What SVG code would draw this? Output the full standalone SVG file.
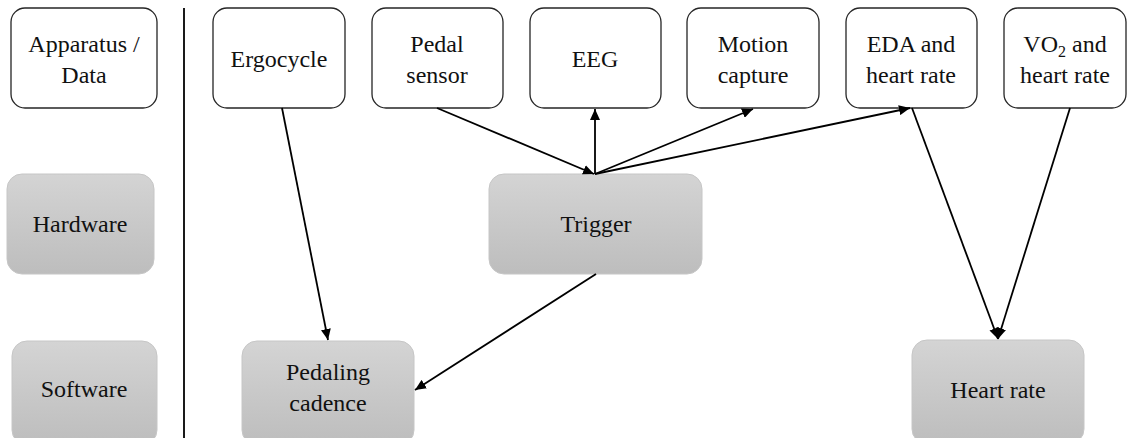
<svg xmlns="http://www.w3.org/2000/svg" width="1129" height="438" viewBox="0 0 1129 438">
<defs>
<linearGradient id="gray" x1="0" y1="0" x2="0" y2="1">
<stop offset="0" stop-color="#d4d4d4"/>
<stop offset="1" stop-color="#bdbdbd"/>
</linearGradient>
<marker id="arr" markerUnits="userSpaceOnUse" markerWidth="12" markerHeight="10" refX="11" refY="5" orient="auto">
<path d="M0,0 L11,5 L0,10 Z" fill="#000"/>
</marker>
<style>
.w{fill:#fff;stroke:#262626;stroke-width:1.3}
.g{fill:url(#gray);stroke:#c6c6c6;stroke-width:1}
.c{stroke:#000;stroke-width:1.8;fill:none;marker-end:url(#arr)}
</style>
</defs>
<line x1="184" y1="8" x2="184" y2="438" stroke="#1a1a1a" stroke-width="2"/>
<g font-family="'Liberation Serif', 'Times New Roman', serif" font-size="24" fill="#111" text-anchor="middle">
<g id="apparatus"><rect class="w" x="11" y="8" width="146" height="100" rx="14"/><text x="84" y="52">Apparatus /</text><text x="84" y="83">Data</text></g>
<g id="hardware"><rect class="g" x="7" y="174" width="147" height="100" rx="15"/><text x="80" y="232">Hardware</text></g>
<g id="software"><rect class="g" x="12" y="341" width="145" height="104" rx="15"/><text x="84" y="397">Software</text></g>
<g id="ergocycle"><rect class="w" x="213" y="8" width="132" height="100" rx="14"/><text x="279" y="67">Ergocycle</text></g>
<g id="pedal"><rect class="w" x="372" y="8" width="131" height="100" rx="14"/><text x="437" y="52">Pedal</text><text x="437" y="83">sensor</text></g>
<g id="eeg"><rect class="w" x="530" y="8" width="131" height="100" rx="14"/><text x="595" y="67">EEG</text></g>
<g id="motion"><rect class="w" x="687" y="8" width="132" height="100" rx="14"/><text x="753" y="52">Motion</text><text x="753" y="83">capture</text></g>
<g id="eda"><rect class="w" x="846" y="8" width="131" height="100" rx="14"/><text x="911" y="52">EDA and</text><text x="911" y="83">heart rate</text></g>
<g id="vo2"><rect class="w" x="1004" y="8" width="122" height="100" rx="14"/><text x="1065" y="52">VO<tspan font-size="16" dy="5">2</tspan><tspan dy="-5"> and</tspan></text><text x="1065" y="83">heart rate</text></g>
<g id="trigger"><rect class="g" x="489" y="174" width="213" height="100" rx="15"/><text x="596" y="232">Trigger</text></g>
<g id="cadence"><rect class="g" x="242" y="341" width="172" height="104" rx="15"/><text x="328" y="380">Pedaling</text><text x="328" y="411">cadence</text></g>
<g id="heartrate"><rect class="g" x="912" y="340" width="172" height="104" rx="15"/><text x="998" y="398">Heart rate</text></g>
</g>
<g id="connectors">
<line class="c" x1="282" y1="108" x2="328" y2="340"/>
<line class="c" x1="437" y1="108" x2="594" y2="174"/>
<line class="c" x1="595" y1="174" x2="595" y2="109"/>
<line class="c" x1="595" y1="174" x2="753" y2="109"/>
<line class="c" x1="595" y1="174" x2="910" y2="108"/>
<line class="c" x1="596" y1="274" x2="415" y2="390"/>
<line class="c" x1="912" y1="108" x2="998" y2="339"/>
<line class="c" x1="1070" y1="108" x2="998" y2="339"/>
</g>
</svg>
